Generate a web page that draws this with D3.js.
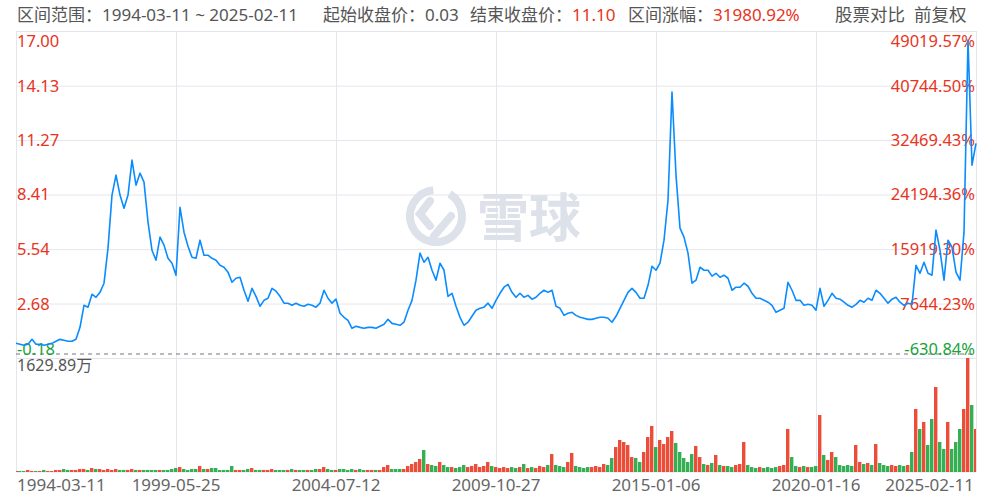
<!DOCTYPE html>
<html>
<head>
<meta charset="utf-8">
<script src="https://cdn.jsdelivr.net/npm/d3@7"></script>
<style>
  body { margin: 0; background: #fff; }
  svg { display: block; font-family: "Noto Sans", "Noto Sans CJK SC", sans-serif; }
  .grid line { stroke: #e4e6ee; stroke-width: 1; }
  .grid path { display: none; }
</style>
</head>
<body>
<svg id="container"></svg>
<script>
// close prices, forward adjusted, one value every ~1/40 of the period
var prices = [
  0.59,0.54,0.49,0.54,0.80,0.54,0.54,0.49,0.54,0.59,
  0.70,0.80,0.75,0.70,0.70,0.80,1.43,2.59,2.49,3.17,
  3.01,3.27,3.75,5.59,8.38,9.43,8.38,7.69,8.38,10.22,
  8.90,9.53,9.06,6.96,5.48,4.96,6.17,5.75,5.06,4.80,
  4.17,7.74,6.43,5.69,5.11,5.06,6.01,5.22,5.22,5.06,
  4.96,4.69,4.59,4.33,3.80,4.01,4.06,3.38,2.80,3.48,
  3.06,2.54,2.85,2.96,3.48,3.33,3.06,2.70,2.70,2.59,
  2.70,2.59,2.54,2.64,2.59,2.49,2.70,3.38,2.96,2.70,
  2.91,2.17,1.96,1.80,1.38,1.49,1.43,1.38,1.43,1.43,
  1.38,1.49,1.59,1.85,1.64,1.59,1.54,1.70,2.33,2.85,
  3.91,5.33,4.85,5.11,4.43,3.91,4.80,4.43,3.06,3.22,
  2.54,1.96,1.54,1.70,2.01,2.33,2.43,2.49,2.70,2.43,
  2.85,3.22,3.54,3.69,3.27,3.01,3.22,3.01,3.11,2.91,
  3.01,3.22,3.38,3.27,3.38,2.54,2.43,2.06,2.17,2.22,
  2.06,1.96,1.91,1.85,1.85,1.91,1.96,1.96,1.91,1.70,
  2.01,2.43,2.85,3.27,3.48,3.27,2.96,2.96,3.64,4.64,
  4.43,4.80,6.01,8.11,13.79,9.43,6.64,6.17,5.33,3.75,
  3.91,4.59,4.43,4.43,4.12,4.27,4.06,4.17,4.01,3.38,
  3.54,3.54,3.75,3.59,3.22,2.96,2.96,2.85,2.75,2.59,
  2.22,2.33,2.43,3.80,3.38,2.85,2.85,2.59,2.64,2.59,
  2.33,3.48,2.54,2.85,3.22,2.96,2.91,2.75,2.59,2.49,
  2.64,2.85,2.75,2.96,2.85,3.38,3.22,2.96,2.70,2.91,
  3.01,2.75,2.59,2.70,2.64,4.69,4.27,4.85,4.27,4.17,
  6.54,5.48,3.91,6.01,5.64,4.33,3.91,6.43,16.53,9.95,11.10
];

// volume in 万
var volumes = [
  14,14,14,29,14,14,14,29,14,14,
  29,29,43,29,29,29,43,43,29,57,
  43,43,29,43,29,43,29,29,29,43,
  29,29,29,29,29,29,29,29,29,43,
  57,71,43,29,43,43,86,43,43,57,
  57,29,29,29,86,29,29,29,43,57,
  29,29,29,29,43,29,29,29,29,43,
  29,29,29,29,29,43,43,71,43,29,
  29,43,43,29,43,29,43,29,29,29,
  29,29,71,100,43,43,43,43,86,114,
  143,186,315,114,100,86,143,100,71,71,
  57,71,100,71,86,114,71,86,143,86,
  71,57,71,57,71,57,71,114,57,71,
  57,86,71,100,257,100,86,71,143,272,
  86,71,57,71,71,86,71,114,100,200,
  357,458,429,386,214,200,143,286,500,658,
  357,458,400,500,586,415,286,200,143,257,
  372,214,114,100,129,243,100,86,86,71,
  100,114,429,100,71,57,71,57,71,57,
  71,86,100,615,214,86,71,86,71,71,
  86,815,243,172,286,214,100,86,100,86,
  386,143,114,129,100,400,129,100,86,100,
  86,100,86,100,286,901,615,715,386,758,
  1215,429,329,715,329,429,615,901,1629.89,958,615
];

var dateTicks = [0, 40, 80, 120, 160, 200, 240];
var dateLabels = ["1994-03-11","1999-05-25","2004-07-12","2009-10-27","2015-01-06","2020-01-16","2025-02-11"];
var priceTicks = [17.00, 14.13, 11.27, 8.41, 5.54, 2.68, -0.18];
var pctLabels = ["49019.57%","40744.50%","32469.43%","24194.36%","15919.30%","7644.23%","-630.84%"];
var startPrice = 0.03;
var volMax = 1629.89;

const W = 997, H = 499;
const margin = {left: 16, right: 976, top: 31, mid: 358, bottom: 472};
const red = "#e8341c", green = "#1aa33c", gray = "#555";

var svg = d3.select("#container").attr("width", W).attr("height", H);

var xScale = d3.scaleLinear().domain([0, prices.length - 1]).range([margin.left, margin.right]);
var yScale = d3.scaleLinear().domain([-0.18, 17]).range([margin.mid, margin.top]);
var vScale = d3.scaleLinear().domain([0, volMax]).range([margin.bottom, margin.mid]);

// header
var head = svg.append("text").attr("y", 21).attr("font-size", 17).attr("fill", gray);
head.append("tspan").attr("x", 17).text("区间范围：1994-03-11 ~ 2025-02-11");
head.append("tspan").attr("x", 323).text("起始收盘价：");
head.append("tspan").text("0.03");
head.append("tspan").attr("x", 470).text("结束收盘价：");
head.append("tspan").attr("fill", red).text("11.10");
head.append("tspan").attr("x", 628).text("区间涨幅：");
head.append("tspan").attr("fill", red).text("31980.92%");
var opts = svg.append("text").attr("y", 21).attr("font-size", 17.5).attr("fill", gray);
opts.append("tspan").attr("x", 835).text("股票对比");
opts.append("tspan").attr("x", 914).text("前复权");

// y gridlines
svg.append("g").attr("class", "grid")
  .attr("transform", "translate(" + margin.left + ",0)")
  .call(d3.axisLeft(yScale).tickValues(priceTicks).tickSize(-(margin.right - margin.left)).tickFormat(""));
svg.append("line").attr("x1", margin.left).attr("x2", margin.right)
  .attr("y1", margin.bottom).attr("y2", margin.bottom).attr("stroke", "#e4e6ee");

// x gridlines
svg.append("g").attr("class", "grid")
  .attr("transform", "translate(0," + margin.bottom + ")")
  .call(d3.axisBottom(xScale).tickValues(dateTicks).tickSize(-(margin.bottom - margin.top)).tickFormat(""));

// watermark
var wm = svg.append("g").attr("fill", "none").attr("stroke", "#dde1e9").attr("stroke-width", 8)
  .attr("stroke-linecap", "round");
wm.append("path").attr("d", d3.arc()({innerRadius: 26, outerRadius: 26, startAngle: 0.55, endAngle: 2 * Math.PI - 0.1}))
  .attr("transform", "translate(436,216)");
wm.append("path").attr("d", "M430,201 L420,214 L430,226");
wm.append("path").attr("d", "M434,236 L451,216");
svg.append("text").attr("x", 477).attr("y", 237).attr("font-size", 52).attr("font-weight", "bold")
  .attr("font-family", "Noto Sans CJK SC").attr("fill", "#dde1e9").text("雪球");

// baseline at start price
svg.append("line").attr("x1", margin.left).attr("x2", margin.right)
  .attr("y1", yScale(startPrice)).attr("y2", yScale(startPrice))
  .attr("stroke", "#777").attr("stroke-dasharray", "4,4");

// price labels
var last = priceTicks.length - 1;
svg.append("g").selectAll("text").data(priceTicks).enter().append("text")
  .attr("x", 17).attr("y", d => yScale(d))
  .attr("dy", (d, i) => i === 0 ? "0.95em" : i === last ? "-0.2em" : "0.36em")
  .attr("font-size", 16.5).attr("fill", (d, i) => i === last ? green : red)
  .text(d => d.toFixed(2));
svg.append("g").selectAll("text").data(pctLabels).enter().append("text")
  .attr("x", margin.right - 1).attr("y", (d, i) => yScale(priceTicks[i]))
  .attr("dy", (d, i) => i === 0 ? "0.95em" : i === last ? "-0.2em" : "0.36em")
  .attr("text-anchor", "end")
  .attr("font-size", 16.5).attr("fill", (d, i) => i === last ? green : red)
  .text(d => d);

// volume bars
var bw = (margin.right - margin.left) / (prices.length - 1);
svg.append("g").selectAll("rect").data(volumes).enter().append("rect")
  .attr("x", (d, i) => Math.max(margin.left, xScale(i) - bw / 2))
  .attr("width", (d, i) => i === 0 || i === volumes.length - 1 ? bw / 2 : bw - 0.6)
  .attr("y", d => vScale(d))
  .attr("height", d => margin.bottom - vScale(d))
  .attr("fill", (d, i) => (i === 0 || prices[i] >= prices[i - 1]) ? red : green)
  .attr("opacity", 0.88);

svg.append("text").attr("x", 17).attr("y", 371).attr("font-size", 16).attr("fill", gray)
  .text(volMax.toFixed(2) + "万");

// price line
var line = d3.line().x((d, i) => xScale(i)).y(d => yScale(d));
svg.append("path").datum(prices)
  .attr("d", line).attr("fill", "none")
  .attr("stroke", "#0a8cff").attr("stroke-width", 1.6).attr("stroke-linejoin", "round");

// date labels
svg.append("g").selectAll("text").data(dateTicks).enter().append("text")
  .attr("x", (d, i) => i === 0 ? margin.left + 1 : i === dateTicks.length - 1 ? margin.right - 2 : xScale(d))
  .attr("y", 491)
  .attr("text-anchor", (d, i) => i === 0 ? "start" : i === dateTicks.length - 1 ? "end" : "middle")
  .attr("font-size", 17).attr("fill", "#666")
  .text((d, i) => dateLabels[i]);
</script>
</body>
</html>
